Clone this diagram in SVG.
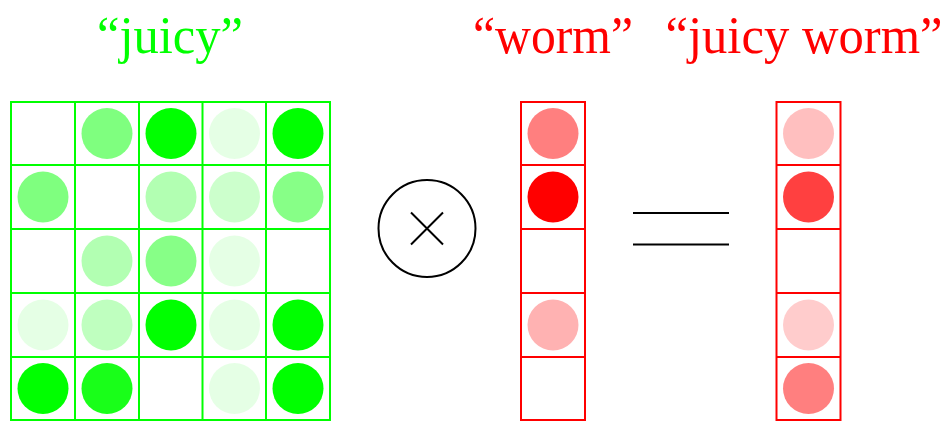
<svg xmlns="http://www.w3.org/2000/svg" width="951" height="423" viewBox="0 0 951 423">
  <style>
    .lbl { font-family: "Liberation Serif", "DejaVu Serif", serif; font-size: 52px; text-anchor: middle; }
    .g { fill: #00ff00; }
    .r { fill: #ff0000; }
    .gcell { fill: none; stroke: #00ff00; stroke-width: 2; }
    .rcell { fill: none; stroke: #ff0000; stroke-width: 2; }
    .op { fill: none; stroke: #000; stroke-width: 2; }
  </style>

  <!-- labels -->
  <text class="lbl g" x="170" y="53" textLength="146" lengthAdjust="spacingAndGlyphs">“juicy”</text>
  <text class="lbl r" x="553" y="53" textLength="160" lengthAdjust="spacingAndGlyphs">“worm”</text>
  <text class="lbl r" x="804" y="53" textLength="277" lengthAdjust="spacingAndGlyphs">“juicy worm”</text>

  <!-- matrix "juicy" : 5x5 cells, dot opacity encodes weight -->
  <g id="matrix-juicy">
    <g fill="#00ff00">
      <!-- row 1 -->
      <circle cx="107" cy="133.5" r="25.5" fill-opacity="0.5"/>
      <circle cx="171" cy="133.5" r="25.5"/>
      <circle cx="234.5" cy="133.5" r="25.5" fill-opacity="0.1"/>
      <circle cx="298" cy="133.5" r="25.5"/>
      <!-- row 2 -->
      <circle cx="43" cy="197" r="25.5" fill-opacity="0.5"/>
      <circle cx="171" cy="197" r="25.5" fill-opacity="0.3"/>
      <circle cx="234.5" cy="197" r="25.5" fill-opacity="0.2"/>
      <circle cx="298" cy="197" r="25.5" fill-opacity="0.47"/>
      <!-- row 3 -->
      <circle cx="107" cy="261" r="25.5" fill-opacity="0.3"/>
      <circle cx="171" cy="261" r="25.5" fill-opacity="0.47"/>
      <circle cx="234.5" cy="261" r="25.5" fill-opacity="0.1"/>
      <!-- row 4 -->
      <circle cx="43" cy="325" r="25.5" fill-opacity="0.1"/>
      <circle cx="107" cy="325" r="25.5" fill-opacity="0.25"/>
      <circle cx="171" cy="325" r="25.5"/>
      <circle cx="234.5" cy="325" r="25.5" fill-opacity="0.1"/>
      <circle cx="298" cy="325" r="25.5"/>
      <!-- row 5 -->
      <circle cx="43" cy="388.5" r="25.5"/>
      <circle cx="107" cy="388.5" r="25.5" fill-opacity="0.9"/>
      <circle cx="234.5" cy="388.5" r="25.5" fill-opacity="0.1"/>
      <circle cx="298" cy="388.5" r="25.5"/>
    </g>
    <rect class="gcell" x="11" y="102" width="319" height="318"/>
    <path class="gcell" d="M75 102V420M139 102V420M202.5 102V420M266 102V420M11 165H330M11 229H330M11 293H330M11 357H330"/>
  </g>

  <!-- multiplication operator -->
  <g id="op-times">
    <circle class="op" cx="427" cy="228.5" r="48.5"/>
    <path class="op" d="M411 212.5L443 244.5M443 212.5L411 244.5"/>
  </g>

  <!-- vector "worm" -->
  <g id="vec-worm">
    <g fill="#ff0000">
      <circle cx="553" cy="133.5" r="25.5" fill-opacity="0.5"/>
      <circle cx="553" cy="197" r="25.5"/>
      <circle cx="553" cy="325" r="25.5" fill-opacity="0.3"/>
    </g>
    <rect class="rcell" x="521" y="102" width="64" height="318"/>
    <path class="rcell" d="M521 165H585M521 229H585M521 293H585M521 357H585"/>
  </g>

  <!-- equals operator -->
  <g id="op-equals">
    <path class="op" d="M633 213H729M633 244.5H729"/>
  </g>

  <!-- vector "juicy worm" -->
  <g id="vec-juicy-worm">
    <g fill="#ff0000">
      <circle cx="808.5" cy="133.5" r="25.5" fill-opacity="0.25"/>
      <circle cx="808.5" cy="197" r="25.5" fill-opacity="0.75"/>
      <circle cx="808.5" cy="325" r="25.5" fill-opacity="0.2"/>
      <circle cx="808.5" cy="388.5" r="25.5" fill-opacity="0.5"/>
    </g>
    <rect class="rcell" x="776.5" y="102" width="64" height="318"/>
    <path class="rcell" d="M776.5 165H840.5M776.5 229H840.5M776.5 293H840.5M776.5 357H840.5"/>
  </g>
</svg>
